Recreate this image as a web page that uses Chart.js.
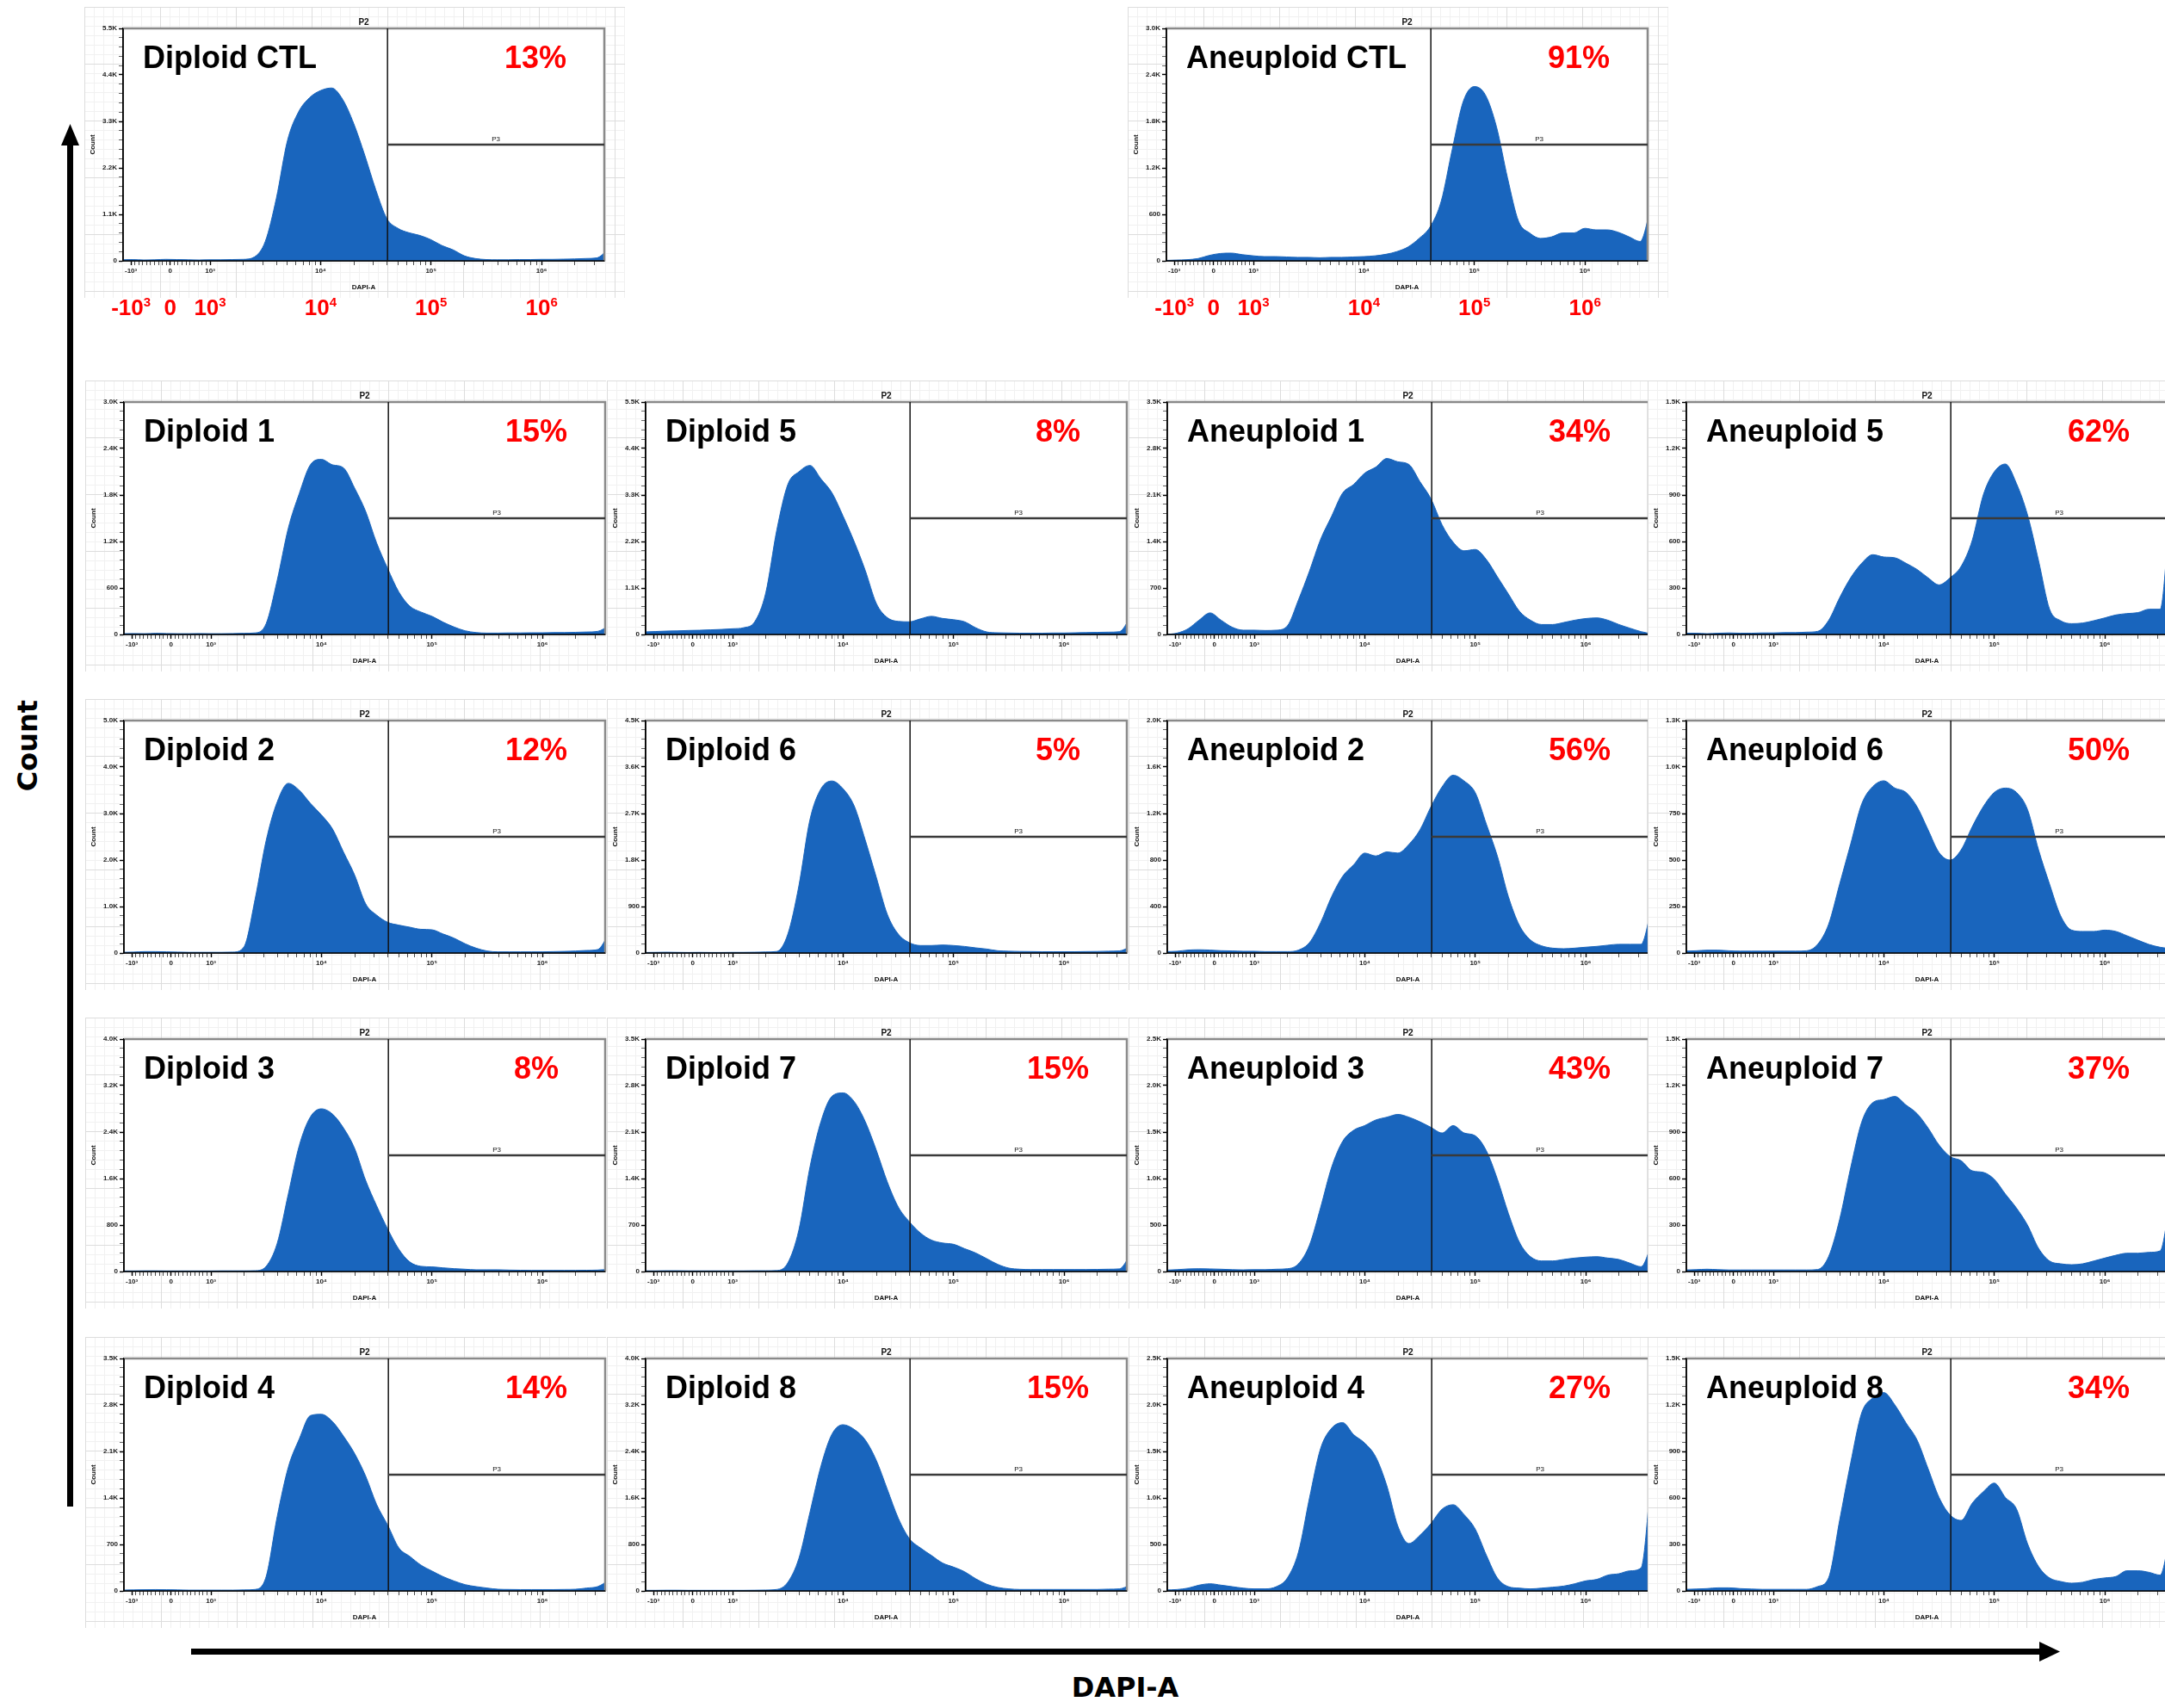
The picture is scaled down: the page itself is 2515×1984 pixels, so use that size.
<!DOCTYPE html>
<html>
<head>
<meta charset="utf-8">
<script src="https://cdn.jsdelivr.net/npm/chart.js@4.4.1/dist/chart.umd.min.js"></script>
<style>
  html, body { margin: 0; padding: 0; background: #fff; }
  body { width: 2515px; height: 1984px; position: relative; overflow: hidden; font-family: "Liberation Sans", Arial, sans-serif; }
  .panel { position: absolute; }
  .bg {
    position: absolute;
    background-color: #fff;
    background-image:
      linear-gradient(#dddddd 1px, transparent 1px),
      linear-gradient(90deg, #dddddd 1px, transparent 1px),
      linear-gradient(#f1f1f1 1px, transparent 1px),
      linear-gradient(90deg, #f1f1f1 1px, transparent 1px);
    background-size: 88px 66px, 88px 66px, 11px 11px, 11px 11px;
  }
  .panel canvas { position: absolute; left: 0; top: 0; }
  svg.deco { position: absolute; left: 0; top: 0; }
</style>
</head>
<body>
<svg class="deco" width="2515" height="1984">
  <rect x="78" y="166" width="7" height="1584" fill="#000"/>
  <polygon points="81.5,144 71,169 92,169" fill="#000"/>
  <rect x="222" y="1915" width="2150" height="7" fill="#000"/>
  <polygon points="2393,1918.5 2369,1907 2369,1930" fill="#000"/>
  <text x="32" y="866" transform="rotate(-90 32 866)" text-anchor="middle" dominant-baseline="central"
        font-family="DejaVu Sans" font-weight="bold" font-size="32">Count</text>
  <text x="1307" y="1960" text-anchor="middle" dominant-baseline="central"
        font-family="DejaVu Sans" font-weight="bold" font-size="32">DAPI-A</text>
</svg>
<div id="wrap"></div>
<script>
// x positions of the histogram bins, in decade units of the DAPI-A display axis
const xPos = [2.2,2.3,2.4,2.5,2.6,2.7,2.8,2.9,3.0,3.1,3.2,3.3,3.4,3.5,3.6,3.7,3.8,3.9,4.0,4.1,4.2,4.3,4.4,4.5,4.6,4.7,4.8,4.9,5.0,5.1,5.2,5.3,5.4,5.5,5.6,5.7,5.8,5.9,6.0,6.1,6.2,6.3,6.4,6.5,6.6];

// axis ticks: -10^3, 0, 10^3 ... 10^6
const xTickPos = [2.284, 2.639, 3, 4, 5, 6];
const xTickBase = ['-10', '0', '10', '10', '10', '10'];
const xTickExp = ['3', '', '3', '4', '5', '6'];
const gatePos = 4.606;

// counts per bin
const dipCTL = [25,30,20,25,35,30,25,20,25,25,30,35,90,460,1480,2840,3520,3860,4030,4090,3820,3250,2500,1680,1000,770,665,600,500,360,260,120,55,30,25,25,30,30,35,35,40,45,55,70,260];
const aneCTL = [5,10,15,30,70,95,100,80,65,55,55,50,45,45,40,45,45,50,55,65,85,120,180,290,440,770,1440,2060,2250,2140,1730,1070,510,360,290,310,360,360,420,400,400,370,310,250,700];
const dip1 = [10,12,10,15,12,10,10,12,10,10,12,15,20,140,700,1370,1820,2190,2260,2190,2150,1890,1590,1180,850,550,365,290,235,160,97,48,25,18,18,20,20,22,22,25,25,28,32,40,110];
const dip5 = [60,70,80,85,95,100,110,120,135,160,300,980,2470,3550,3850,4000,3680,3350,2800,2200,1520,740,400,310,300,370,430,380,350,300,160,60,40,35,30,30,30,35,35,40,45,50,55,65,400];
const ane1 = [0,20,85,215,325,215,110,65,65,60,65,130,520,955,1430,1780,2130,2260,2430,2520,2650,2600,2560,2300,2040,1650,1390,1260,1280,1130,870,610,350,215,150,150,180,215,240,250,215,150,95,43,10];
const ane5 = [8,8,5,8,10,8,8,10,10,12,12,15,20,90,237,366,460,515,500,495,460,420,366,320,366,440,607,900,1050,1100,975,773,477,163,89,70,74,89,107,126,135,141,163,163,900];
const dip2 = [15,20,30,30,25,20,15,15,15,15,20,135,1160,2420,3250,3650,3500,3220,2970,2670,2170,1680,1060,815,660,600,555,510,500,410,320,200,105,43,25,25,25,25,25,30,35,43,55,74,400];
const dip6 = [10,12,15,12,10,12,10,10,12,12,15,20,30,365,1300,2580,3180,3330,3180,2850,2190,1470,750,365,200,145,145,155,145,127,100,77,44,35,30,28,25,25,25,25,28,30,35,40,120];
const ane2 = [12,15,25,28,25,20,18,15,15,12,12,12,25,90,260,485,660,760,860,835,870,860,935,1060,1260,1430,1530,1480,1380,1110,835,485,237,112,62,42,37,42,50,57,67,75,75,75,400];
const ane6 = [10,12,15,15,12,10,10,10,10,10,10,12,46,154,370,586,802,895,926,887,864,787,663,540,500,555,679,787,864,887,864,772,555,370,200,123,116,116,123,116,93,69,46,31,23];
const dip3 = [10,10,12,12,10,10,10,10,10,12,12,12,15,90,485,1330,2170,2660,2800,2710,2470,2120,1570,1130,730,385,165,90,80,64,50,40,30,30,30,25,22,20,20,20,20,20,22,25,40];
const dip7 = [10,10,12,12,10,10,10,10,10,10,12,12,15,130,625,1570,2260,2640,2690,2560,2260,1830,1350,970,750,580,473,430,410,344,280,194,108,52,35,30,30,30,30,30,30,32,35,40,250];
const ane3 = [15,20,28,30,28,25,20,18,20,20,25,30,83,285,686,1120,1400,1520,1570,1630,1660,1690,1660,1610,1550,1490,1570,1490,1460,1300,995,625,315,160,114,114,130,145,155,160,145,130,90,52,300];
const ane7 = [10,12,15,12,10,10,10,10,10,10,10,10,13,96,336,670,965,1090,1110,1130,1075,1020,927,816,742,715,650,640,595,500,410,300,150,68,50,44,50,68,87,105,118,118,124,133,500];
const dip4 = [12,15,18,20,18,15,12,12,12,12,12,15,22,216,1120,1860,2290,2640,2660,2550,2330,2070,1730,1300,990,650,520,390,300,216,150,95,65,43,25,22,20,20,20,20,22,25,43,65,160];
const dip8 = [10,10,12,12,10,10,10,10,10,10,12,15,25,150,560,1350,2150,2700,2860,2780,2600,2250,1750,1250,900,740,610,480,410,330,210,115,60,35,25,25,25,25,25,25,25,25,30,35,100];
const ane4 = [10,15,30,62,77,62,46,30,22,22,46,140,417,1000,1530,1750,1810,1680,1590,1440,1130,695,510,600,726,880,927,820,665,386,140,46,30,22,30,40,52,77,108,124,170,185,216,247,1320];
const ane8 = [10,12,15,20,20,15,12,10,10,10,10,10,28,84,455,826,1150,1245,1280,1200,1085,975,790,603,490,455,566,640,696,603,530,306,158,84,61,50,56,74,84,93,130,130,120,102,400];

const panelNames = ['Diploid CTL','Aneuploid CTL',
  'Diploid 1','Diploid 5','Aneuploid 1','Aneuploid 5',
  'Diploid 2','Diploid 6','Aneuploid 2','Aneuploid 6',
  'Diploid 3','Diploid 7','Aneuploid 3','Aneuploid 7',
  'Diploid 4','Diploid 8','Aneuploid 4','Aneuploid 8'];
const panelPcts = ['13%','91%','15%','8%','34%','62%','12%','5%','56%','50%','8%','15%','43%','37%','14%','15%','27%','34%'];
const panelYMax = [5500,3000,3000,5500,3500,1500,5000,4500,2000,1250,4000,3500,2500,1500,3500,4000,2500,1500];
const panelCounts = [dipCTL, aneCTL, dip1, dip5, ane1, ane5, dip2, dip6, ane2, ane6, dip3, dip7, ane3, ane7, dip4, dip8, ane4, ane8];

// layout (plot-area corners)
const colLeft = [144, 750, 1356, 1959];
const rowTop = [467, 837, 1207, 1578];
const slots = [[143, 33], [1355, 33]];
rowTop.forEach(t => colLeft.forEach(l => slots.push([l, t])));

const PLOT_W = 559, PLOT_H = 270, LEFT_AX = 46, TOP_PAD = 26, X_AX = 50;
const BLUE = '#1965bd';
const SUP = { '3': '\u00b3', '4': '\u2074', '5': '\u2075', '6': '\u2076' };
const xTickSmall = xTickBase.map((b, i) => b + (xTickExp[i] ? SUP[xTickExp[i]] : ''));

const minorX = [];
for (let k = 1; k < 10; k++) {
  minorX.push(2.639 - 0.355 * k / 10);
  minorX.push(2.639 + 0.361 * k / 10);
}
for (let d = 3; d < 7; d++) {
  for (let k = 2; k < 10; k++) {
    const v = d + Math.log10(k);
    if (v < 6.56) minorX.push(v);
  }
}
const isMajorX = v => xTickPos.some(p => Math.abs(p - v) < 1e-9);

function fmtCount(v) {
  if (v === 0) return '0';
  if (v >= 1000) return (v / 1000).toFixed(1) + 'K';
  return String(Math.round(v));
}

const flowPlugin = {
  id: 'flow',
  beforeDraw(chart) {
    const a = chart.chartArea, c = chart.ctx;
    c.save();
    c.fillStyle = '#fff';
    c.fillRect(a.left, a.top, a.right - a.left, a.bottom - a.top);
    c.restore();
  },
  afterDraw(chart, args, o) {
    const a = chart.chartArea, c = chart.ctx;
    const gx = chart.scales.x.getPixelForValue(o.gate);
    const hy = chart.scales.y.getPixelForValue(o.half);
    const mid = (a.left + a.right) / 2;
    c.save();
    // frame
    c.strokeStyle = '#8a8a8a'; c.lineWidth = 2.5;
    c.beginPath(); c.moveTo(a.left, a.top); c.lineTo(a.right, a.top); c.lineTo(a.right, a.bottom); c.stroke();
    c.strokeStyle = '#000'; c.lineWidth = 1.5;
    c.beginPath(); c.moveTo(a.left, a.top); c.lineTo(a.left, a.bottom); c.lineTo(a.right, a.bottom); c.stroke();
    // gates
    c.strokeStyle = '#111'; c.lineWidth = 1.5;
    c.beginPath(); c.moveTo(gx, a.top); c.lineTo(gx, a.bottom); c.stroke();
    c.strokeStyle = '#3a3a3a'; c.lineWidth = 2.5;
    c.beginPath(); c.moveTo(gx, hy); c.lineTo(a.right, hy); c.stroke();
    // small labels
    c.fillStyle = '#111'; c.textAlign = 'center'; c.textBaseline = 'alphabetic';
    c.font = 'bold 10px "Liberation Sans"';
    c.fillText('P2', mid, a.top - 4);
    c.font = '8px "Liberation Sans"';
    c.fillText('P3', (gx + a.right) / 2, hy - 4);
    c.font = 'bold 8px "Liberation Sans"'; c.textBaseline = 'middle';
    c.fillText('DAPI-A', mid, a.bottom + 31);
    c.save();
    c.translate(a.left - 35, (a.top + a.bottom) / 2); c.rotate(-Math.PI / 2);
    c.fillText('Count', 0, 0);
    c.restore();
    // sample name and percentage
    c.textBaseline = 'alphabetic';
    c.font = 'bold 36px "Liberation Sans"';
    c.textAlign = 'left'; c.fillStyle = '#000';
    c.fillText(o.name, a.left + 23, a.top + 46);
    c.textAlign = 'center'; c.fillStyle = '#ff0000';
    c.fillText(o.pct, a.right - 80, a.top + 46);
    // big red tick labels under the control panels
    if (o.bigTicks) {
      c.textAlign = 'left'; c.fillStyle = '#ff0000';
      const yb = a.bottom + 63;
      xTickPos.forEach((p, i) => {
        const px = chart.scales.x.getPixelForValue(p);
        c.font = 'bold 26px "Liberation Sans"';
        const wb = c.measureText(xTickBase[i]).width;
        c.font = 'bold 15px "Liberation Sans"';
        const we = xTickExp[i] ? c.measureText(xTickExp[i]).width : 0;
        const x0 = px - (wb + we) / 2;
        c.font = 'bold 26px "Liberation Sans"';
        c.fillText(xTickBase[i], x0, yb);
        if (xTickExp[i]) {
          c.font = 'bold 15px "Liberation Sans"';
          c.fillText(xTickExp[i], x0 + wb, yb - 10);
        }
      });
    }
    c.restore();
  }
};

const wrap = document.getElementById('wrap');

panelNames.forEach((name, idx) => {
  const [pl, pt] = slots[idx];
  const isTop = idx < 2;
  const W = LEFT_AX + PLOT_W + 2;
  const H = isTop ? 380 : 346;
  const padBottom = H - TOP_PAD - PLOT_H - X_AX;

  const panel = document.createElement('div');
  panel.className = 'panel';
  panel.style.left = (pl - LEFT_AX) + 'px';
  panel.style.top = (pt - TOP_PAD) + 'px';
  const bg = document.createElement('div');
  bg.className = 'bg';
  bg.style.left = '1px'; bg.style.top = '1px';
  bg.style.width = (isTop ? 628 : 605) + 'px';
  bg.style.height = '338px';
  panel.appendChild(bg);
  const cv = document.createElement('canvas');
  cv.width = W; cv.height = H;
  cv.style.width = W + 'px'; cv.style.height = H + 'px';
  panel.appendChild(cv);
  wrap.appendChild(panel);

  const counts = panelCounts[idx];
  const yMax = panelYMax[idx];

  new Chart(cv.getContext('2d'), {
    type: 'line',
    data: {
      datasets: [{
        data: xPos.map((x, i) => ({ x: x, y: counts[i] })),
        borderColor: BLUE,
        backgroundColor: BLUE,
        borderWidth: 1,
        fill: 'origin',
        pointRadius: 0,
        cubicInterpolationMode: 'monotone'
      }]
    },
    options: {
      responsive: false,
      animation: false,
      devicePixelRatio: 1,
      layout: { padding: { top: TOP_PAD, left: 0, right: 2, bottom: padBottom } },
      plugins: {
        legend: { display: false },
        tooltip: { enabled: false },
        flow: { name: name, pct: panelPcts[idx], gate: gatePos, half: yMax / 2, bigTicks: isTop }
      },
      scales: {
        x: {
          type: 'linear',
          min: 2.213,
          max: 6.568,
          afterBuildTicks: s => {
            s.ticks = xTickPos.concat(minorX).sort((p, q) => p - q).map(v => ({ value: v }));
          },
          afterFit: s => { s.height = X_AX; },
          ticks: {
            autoSkip: false,
            maxRotation: 0,
            padding: 2,
            color: '#222',
            font: { family: 'Liberation Sans', size: 8, weight: 'bold' },
            callback: v => {
              const i = xTickPos.findIndex(p => Math.abs(p - v) < 1e-9);
              return i >= 0 ? xTickSmall[i] : '';
            }
          },
          grid: {
            drawOnChartArea: false,
            drawTicks: true,
            tickLength: 5,
            tickColor: '#000',
            tickWidth: ctx => (ctx.tick && isMajorX(ctx.tick.value)) ? 1.4 : 0.7
          },
          border: { display: true, color: '#000', width: 1.5 }
        },
        y: {
          type: 'linear',
          min: 0,
          max: yMax,
          afterBuildTicks: s => {
            s.ticks = Array.from({ length: 26 }, (_, k) => ({ value: s.max * k / 25 }));
          },
          afterFit: s => { s.width = LEFT_AX; },
          ticks: {
            autoSkip: false,
            padding: 2,
            color: '#222',
            font: { family: 'Liberation Sans', size: 8, weight: 'bold' },
            callback: (v, i) => (i % 5 === 0 ? fmtCount(v) : '')
          },
          grid: {
            drawOnChartArea: false,
            drawTicks: true,
            tickLength: 5,
            tickColor: '#000',
            tickWidth: ctx => (ctx.index % 5 === 0) ? 1.4 : 0.6
          },
          border: { display: true, color: '#000', width: 1.5 }
        }
      }
    },
    plugins: [flowPlugin]
  });
});
</script>
</body>
</html>
